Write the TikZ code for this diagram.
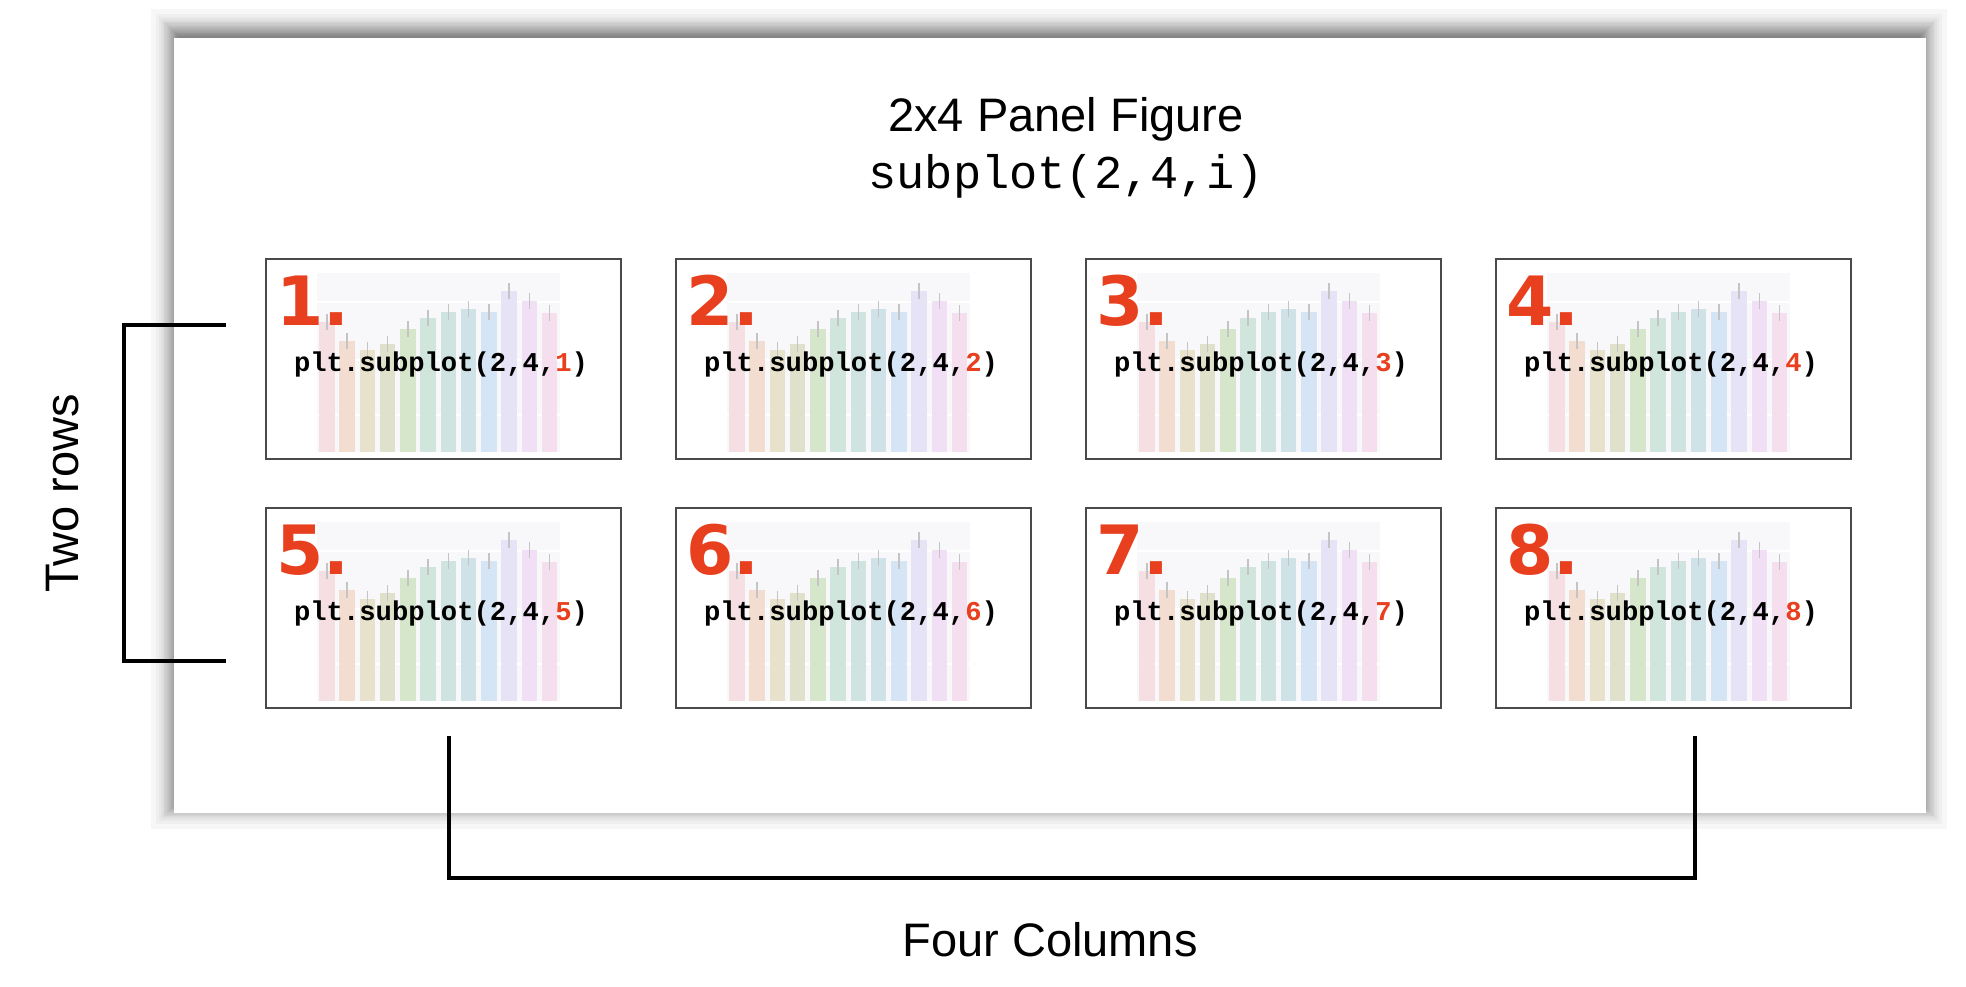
\documentclass[tikz,border=0pt]{standalone}
\usepackage{fontspec}
\setmainfont{Liberation Sans}
\newfontfamily\codefont{Liberation Mono}
\newfontfamily\numfont{DejaVu Sans}
\definecolor{numred}{HTML}{E8401F}
\definecolor{plotbg}{HTML}{F8F8FB}
\definecolor{errgray}{HTML}{C4C4C4}
\definecolor{panelgray}{HTML}{4A4A4A}
\definecolor{bar0}{HTML}{F5DFE3}
\definecolor{bar1}{HTML}{F2DDD0}
\definecolor{bar2}{HTML}{E8E2CD}
\definecolor{bar3}{HTML}{DFE1CB}
\definecolor{bar4}{HTML}{D5E6CB}
\definecolor{bar5}{HTML}{D0E6DC}
\definecolor{bar6}{HTML}{CFE3E1}
\definecolor{bar7}{HTML}{CFE2E8}
\definecolor{bar8}{HTML}{D5E5F5}
\definecolor{bar9}{HTML}{E6E3F7}
\definecolor{bar10}{HTML}{F0DFF5}
\definecolor{bar11}{HTML}{F5DFEE}
\tikzset{
  panelbox/.style={draw=panelgray, line width=0.7pt, minimum width=177.5pt, minimum height=100pt, inner sep=0pt},
  codetext/.style={font=\codefont\bfseries\fontsize{13.6}{15}\selectfont, inner sep=0pt},
  numtext/.style={font=\numfont\bfseries\fontsize{34}{34}\selectfont, text=numred, inner sep=0pt},
  labeltext/.style={font=\fontsize{23.5}{28}\selectfont, inner sep=0pt},
  bracket/.style={draw=black, line width=2pt},
  errbar/.style={draw=errgray, line width=0.75pt},
  shadowlayer/.style={fill=black, opacity=0.03},
}
\begin{document}
\begin{tikzpicture}[x=0.5pt,y=-0.5pt]
\useasboundingbox (0,0) rectangle (1966,986);
% soft drop shadow (gaussian-like, built from layers)
\foreach \e in {-23.4,-18.1,-15.2,-13.1,-11.4,-9.9,-8.6,-7.4,-6.3,-5.2,-4.2,-3.3,-2.3,-1.4,-0.5,0.5,1.4,2.3,3.3,4.2,5.2,6.3,7.4,8.6,9.9,11.4,13.1,15.2,18.1,23.4} {
  \fill[shadowlayer] (174-\e,32-\e) rectangle (1924+\e,806+\e);
}
\fill[white] (174,38) rectangle (1926,813);
% title
\node[labeltext] (title) at (1066,119) {2x4 Panel Figure};
\node[labeltext, font=\codefont\fontsize{23.5}{28}\selectfont] (titlecode) at (1066,176) {subplot(2,4,i)};
% panels
\foreach \r in {0,1} {
 \foreach \c in {0,1,2,3} {
  \pgfmathtruncatemacro\pn{\r*4+\c+1}
  \pgfmathsetmacro\L{266+410*\c}
  \pgfmathsetmacro\T{259+249*\r}
  \begin{scope}[shift={(\L,\T)}]
    \fill[plotbg] (51,14) rectangle (294,193);
    \foreach \gy in {43,101,156} \draw[white,line width=0.6pt] (51,\gy) -- (294,\gy);
    \foreach \h [count=\j from 0] in {63,82,91,85,70,59,53,50,53,32,42,54} {
      \fill[bar\j] (53+20.25*\j,\h) rectangle (68.5+20.25*\j,193);
      \draw[errbar] (60.75+20.25*\j,\h-8) -- (60.75+20.25*\j,\h+8);
    }
    \node[panelbox] (p\pn) at (177.5,100) {};
    \node[codetext] (c\pn) at (175,105) {plt.subplot(2,4,\textcolor{numred}{\pn})};
    \node[numtext, anchor=base west] (n\pn) at (10,66) {\pn.};
  \end{scope}
 }
}
% brackets
\coordinate (rowtop) at (226,325);
\coordinate (rowbot) at (226,661);
\coordinate (rowspine) at (124,493);
\draw[bracket] (rowtop) -| (rowspine) |- (rowbot);
\coordinate (colleft) at (449,736);
\coordinate (colright) at (1695,736);
\coordinate (colspine) at (1072,878);
\draw[bracket] (colleft) |- (colspine) -| (colright);
\node[labeltext, rotate=90] (tworows) at (63,493) {Two rows};
\node[labeltext] (fourcols) at (1050,940) {Four Columns};
\end{tikzpicture}
\end{document}
